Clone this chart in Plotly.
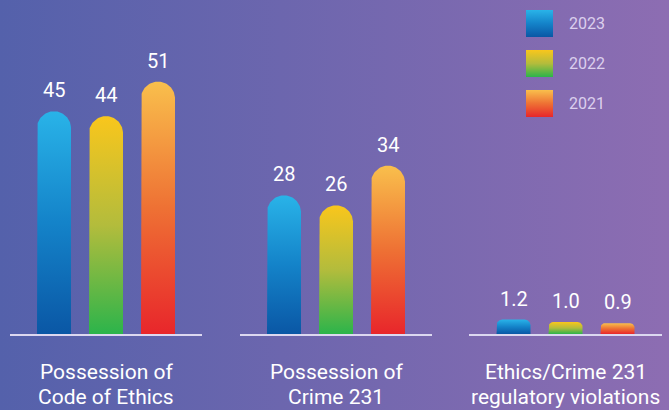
import numpy as np
import plotly.graph_objects as go

# ---------------- data ----------------
categories = ["Possession of<br>Code of Ethics",
              "Possession of<br>Crime 231",
              "Ethics/Crime 231<br>regulatory violations"]
years = ["2023", "2022", "2021"]
values_2023 = [45, 28, 1.2]
values_2022 = [44, 26, 1.0]
values_2021 = [51, 34, 0.9]
label_decimals = [0, 0, 1]

series_values = [values_2023, values_2022, values_2021]
series_scales = [
    [[0, "#0a57a5"], [0.5, "#1483c9"], [1, "#29b3e8"]],
    [[0, "#2cb44b"], [0.5, "#b3bc3c"], [1, "#f9c61c"]],
    [[0, "#e8262b"], [0.5, "#ee7134"], [1, "#f9bf4c"]],
]

# ---------------- layout geometry ----------------
W, H = 669, 410
BASE_PX = 334
group_px = [(10, 202), (240, 432), (469, 662)]
pitch_px = 52
bar_w_px = 34
px_per_unit = [4.95, 4.95, 12.0]
cat_line_px = [372, 397]
FONT = "Roboto"

fig = go.Figure()

# background gradient (subplot xy)
fig.add_trace(go.Scatter(
    x=[0, 1, 1, 0, 0], y=[0, 0, 1, 1, 0], mode="lines", fill="toself",
    line=dict(width=0), hoverinfo="skip", showlegend=False,
    fillgradient=dict(type="horizontal",
                      colorscale=[[0, "#5461ab"], [1, "#8d6db2"]]),
    xaxis="x", yaxis="y"))

layout_axes = dict(
    xaxis=dict(domain=[0, 1], range=[0, 1], visible=False, fixedrange=True),
    yaxis=dict(domain=[0, 1], range=[0, 1], visible=False, fixedrange=True),
)


def rounded_bar(c, v, ppu):
    hw = bar_w_px / 2 / pitch_px
    h_px = v * ppu
    r_px = min(bar_w_px / 2, h_px * 0.4)
    rx = r_px / pitch_px
    ry = r_px / ppu
    t1 = np.linspace(np.pi, np.pi / 2, 24)
    t2 = np.linspace(np.pi / 2, 0, 24)
    xs = [c - hw]
    ys = [0]
    xs += list((c - hw + rx) + rx * np.cos(t1))
    ys += list((v - ry) + ry * np.sin(t1))
    xs += list((c + hw - rx) + rx * np.cos(t2))
    ys += list((v - ry) + ry * np.sin(t2))
    xs += [c + hw, c - hw]
    ys += [0, 0]
    return xs, ys


annotations = []
bottom_dom = (H - BASE_PX) / H
for g, (a, b) in enumerate(group_px):
    k = g + 2
    xa, ya = f"x{k}", f"y{k}"
    half_span = (b - a) / 2 / pitch_px
    ymax = BASE_PX / px_per_unit[g]
    layout_axes[f"xaxis{k}"] = dict(
        domain=[a / W, b / W], range=[1 - half_span, 1 + half_span],
        anchor=ya, showline=True, linecolor="#dcd8f0", linewidth=1.5,
        showgrid=False, zeroline=False, showticklabels=False, ticks="",
        fixedrange=True)
    layout_axes[f"yaxis{k}"] = dict(
        domain=[bottom_dom, 1], range=[0, ymax], anchor=xa, visible=False,
        fixedrange=True)
    for s, vals in enumerate(series_values):
        v = vals[g]
        xs, ys = rounded_bar(s, v, px_per_unit[g])
        fig.add_trace(go.Scatter(
            x=xs, y=ys, mode="lines", fill="toself", line=dict(width=0),
            fillgradient=dict(type="vertical", colorscale=series_scales[s]),
            hoverinfo="skip", showlegend=False, xaxis=xa, yaxis=ya))
        annotations.append(dict(
            x=s, y=v, xref=xa, yref=ya, text=f"{v:.{label_decimals[g]}f}",
            showarrow=False, yanchor="middle", yshift=21,
            font=dict(family=FONT, size=20, color="#ffffff")))
    for line_txt, ypx in zip(categories[g].split("<br>"), cat_line_px):
        annotations.append(dict(
            x=0.5, y=(H - ypx) / H, xref=f"x{k} domain", yref="paper",
            text=line_txt, showarrow=False, xanchor="center",
            yanchor="middle", align="center",
            font=dict(family=FONT, size=21, color="#ffffff")))

# custom legend (subplot x5/y5)
leg_x = (526, 553)
leg_y_top, leg_sq, leg_pitch = 10, 27, 40
n = len(years)
leg_total = leg_sq + (n - 1) * leg_pitch
half = leg_sq / 2 / leg_pitch
layout_axes["xaxis5"] = dict(domain=[leg_x[0] / W, leg_x[1] / W], range=[0, 1],
                             anchor="y5", visible=False, fixedrange=True)
layout_axes["yaxis5"] = dict(domain=[(H - leg_y_top - leg_total) / H, (H - leg_y_top) / H],
                             range=[n - 1 + half, -half], anchor="x5",
                             visible=False, fixedrange=True)
for i, yr in enumerate(years):
    fig.add_trace(go.Scatter(
        x=[0, 1, 1, 0, 0], y=[i + half, i + half, i - half, i - half, i + half],
        mode="lines", fill="toself", line=dict(width=0),
        fillgradient=dict(type="vertical", colorscale=series_scales[i]),
        hoverinfo="skip", showlegend=False, xaxis="x5", yaxis="y5"))
    annotations.append(dict(
        x=1, y=i, xref="x5", yref="y5", text=yr, showarrow=False,
        xanchor="left", yanchor="middle", xshift=14,
        font=dict(family=FONT, size=16, color="rgba(236,226,250,0.85)")))

fig.update_layout(
    width=W, height=H, margin=dict(l=0, r=0, t=0, b=0),
    paper_bgcolor="#6f67af", plot_bgcolor="rgba(0,0,0,0)",
    showlegend=False, annotations=annotations, **layout_axes)

fig.write_html("out.html", config={"displayModeBar": False})
